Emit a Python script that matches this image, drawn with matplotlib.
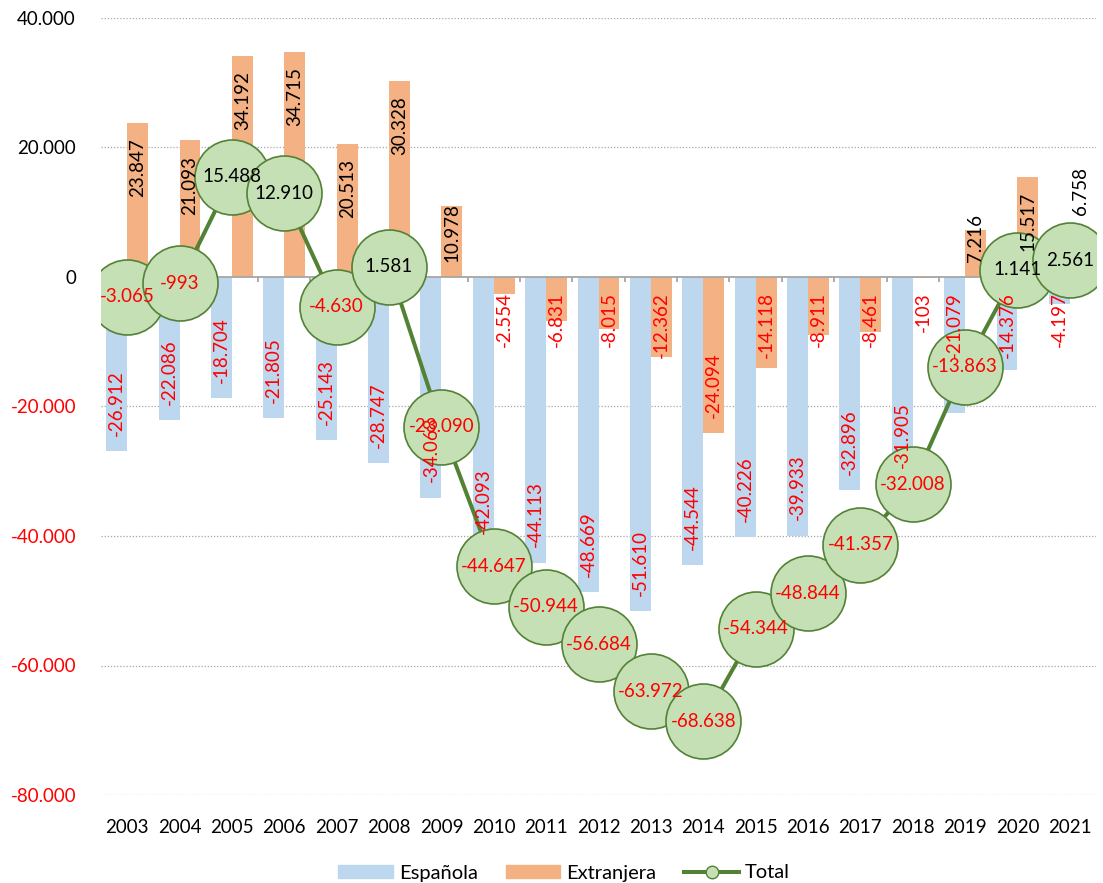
import matplotlib
matplotlib.use("Agg")
import matplotlib.pyplot as plt
from matplotlib.patches import Patch
from matplotlib.lines import Line2D
import numpy as np

years = [str(y) for y in range(2003, 2022)]
espanola = [-26912, -22086, -18704, -21805, -25143, -28747, -34068, -42093, -44113,
            -48669, -51610, -44544, -40226, -39933, -32896, -31905, -21079, -14376, -4197]
extranjera = [23847, 21093, 34192, 34715, 20513, 30328, 10978, -2554, -6831,
              -8015, -12362, -24094, -14118, -8911, -8461, -103, 7216, 15517, 6758]
total = [-3065, -993, 15488, 12910, -4630, 1581, -23090, -44647, -50944,
         -56684, -63972, -68638, -54344, -48844, -41357, -32008, -13863, 1141, 2561]
yticks = [40000, 20000, 0, -20000, -40000, -60000, -80000]
ext_outside_labels = ["2021"]   # extranjera label placed outside the bar end
esp_base_labels = ["2019"]      # española label placed next to the axis

C_ESP = "#BDD7EE"
C_EXT = "#F4B183"
C_LINE = "#548235"
C_MFILL = "#C5E0B4"
C_MEDGE = "#538135"
RED = "#FF0000"

plt.rcParams['font.family'] = ['Lato', 'DejaVu Sans']
FS = 13.5

def fmt(v):
    return f"{v:,}".replace(",", ".")

W, H = 1103, 883
fig = plt.figure(figsize=(W / 100, H / 100), dpi=100)
ax = fig.add_axes([101 / W, 1 - 795 / H, (1096 - 101) / W, (795 - 18) / H])

x = np.arange(len(years))
bw = 0.4
ax.bar(x - bw / 2, espanola, bw, color=C_ESP, zorder=2)
ax.bar(x + bw / 2, extranjera, bw, color=C_EXT, zorder=2)
ax.plot(x, total, color=C_LINE, lw=2.9, marker='o', ms=54, mfc=C_MFILL,
        mec=C_MEDGE, mew=1.2, zorder=4)

ax.set_xlim(-0.5, len(years) - 0.5)
ax.set_ylim(-80000, 40000)
ax.set_yticks(yticks)
ax.set_yticklabels([fmt(v) for v in yticks])
for lbl, v in zip(ax.get_yticklabels(), yticks):
    lbl.set_color(RED if v < 0 else 'black')
ax.set_xticks(x)
ax.set_xticklabels(years)
ax.tick_params(axis='both', length=0, labelsize=FS)
ax.tick_params(axis='y', pad=18)
ax.tick_params(axis='x', pad=17)
for s in ax.spines.values():
    s.set_visible(False)
for v in yticks:
    if v != 0:
        ax.axhline(v, color='#A6A6A6', lw=0.9, ls=(0, (1, 1.5)), zorder=1)
ax.axhline(0, color='#A6A6A6', lw=1.3, zorder=3)

# tick marks between categories on the zero line
px_per_unit = (795 - 18) / 120000
tick_len = 5 / px_per_unit
ax.vlines(np.arange(len(years) + 1) - 0.5, -tick_len, 0, color='#A6A6A6', lw=1.3, zorder=3)

fig.canvas.draw()
renderer = fig.canvas.get_renderer()
y0_disp = ax.transData.transform((0, 0))[1]
OFF = 11  # points

def at_base(xp, v, col):
    if v < 0:
        ax.annotate(fmt(v), (xp, 0), xytext=(0, -OFF), textcoords='offset points',
                    rotation=90, ha='center', va='top', fontsize=FS, color=col, zorder=10)
    else:
        ax.annotate(fmt(v), (xp, 0), xytext=(0, OFF), textcoords='offset points',
                    rotation=90, ha='center', va='bottom', fontsize=FS, color=col, zorder=10)

def bar_label(xp, v, base=False, outside=False):
    col = RED if v < 0 else 'black'
    if base:
        at_base(xp, v, col)
        return
    if outside:
        ax.annotate(fmt(v), (xp, v), xytext=(0, 13 if v > 0 else -13), textcoords='offset points',
                    rotation=90, ha='center', va='bottom' if v > 0 else 'top',
                    fontsize=FS, color=col, zorder=10)
        return
    if v < 0:
        t = ax.annotate(fmt(v), (xp, v), xytext=(0, OFF), textcoords='offset points',
                        rotation=90, ha='center', va='bottom', fontsize=FS, color=col, zorder=10)
        bb = t.get_window_extent(renderer)
        if bb.y1 > y0_disp - 16:
            t.remove()
            at_base(xp, v, col)
    else:
        t = ax.annotate(fmt(v), (xp, v), xytext=(0, -OFF), textcoords='offset points',
                        rotation=90, ha='center', va='top', fontsize=FS, color=col, zorder=10)
        bb = t.get_window_extent(renderer)
        if bb.y0 < y0_disp + 16:
            t.remove()
            at_base(xp, v, col)

for i, yr in enumerate(years):
    bar_label(x[i] - bw / 2, espanola[i], base=yr in esp_base_labels)
    bar_label(x[i] + bw / 2, extranjera[i], outside=yr in ext_outside_labels)
    ax.text(x[i], total[i], fmt(total[i]), ha='center', va='center', fontsize=FS,
            color=RED if total[i] < 0 else 'black', zorder=11)

handles = [Patch(color=C_ESP), Patch(color=C_EXT),
           Line2D([], [], color=C_LINE, lw=2.9, marker='o', ms=9, mfc=C_MFILL, mec=C_MEDGE, mew=1)]
fig.legend(handles, ["Española", "Extranjera", "Total"], loc='center',
           bbox_to_anchor=(564 / W, 1 - 873 / H), ncol=3, frameon=False, fontsize=14.5,
           handlelength=2.7, handleheight=0.6, handletextpad=0.3, columnspacing=1.4)

fig.savefig("out.png", dpi=100)
